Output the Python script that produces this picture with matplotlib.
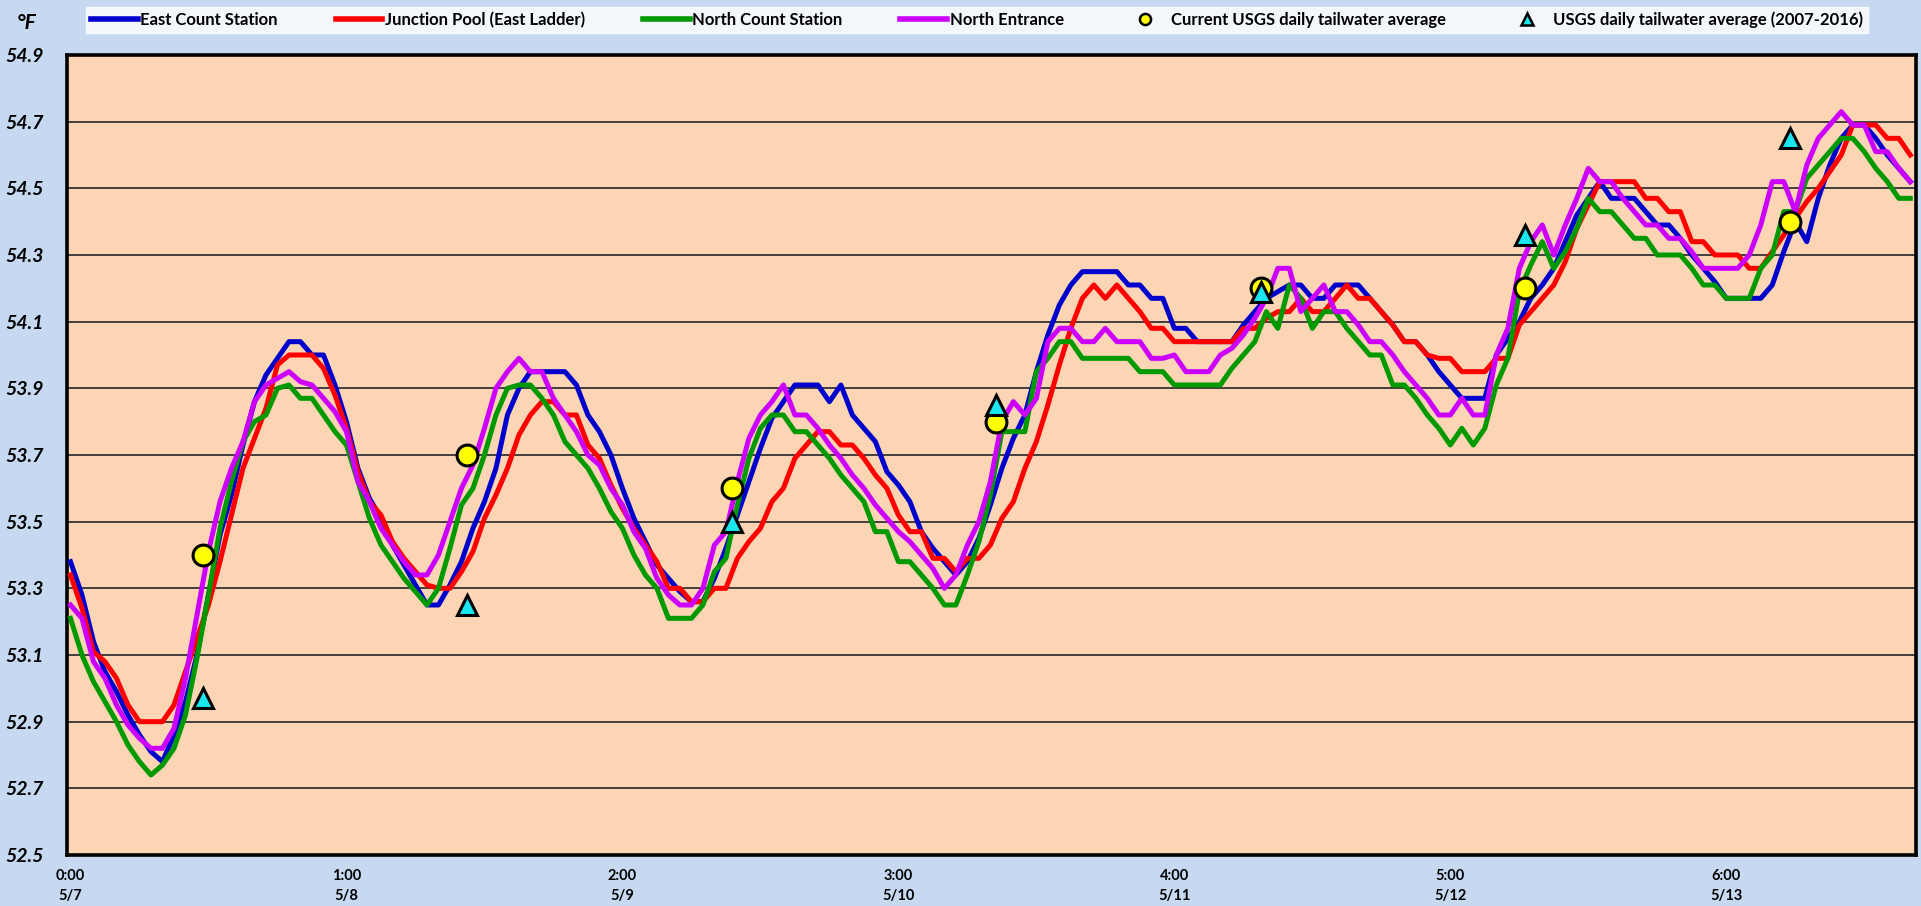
import numpy as np
import matplotlib
matplotlib.use("Agg")
import matplotlib.pyplot as plt
from matplotlib.lines import Line2D

plt.rcParams['font.family'] = ['Lato', 'DejaVu Sans']

# hourly readings, 5/7 0:00 onward
hours = np.arange(161)

east_count = [
    53.38, 53.28, 53.14, 53.05, 52.99, 52.92, 52.86, 52.81, 52.78, 52.86, 52.96, 53.10,
    53.28, 53.46, 53.58, 53.73, 53.86, 53.94, 53.99, 54.04, 54.04, 54.00, 54.00, 53.91,
    53.80, 53.66, 53.57, 53.51, 53.43, 53.37, 53.31, 53.25, 53.25, 53.31, 53.38, 53.48,
    53.56, 53.66, 53.82, 53.90, 53.95, 53.95, 53.95, 53.95, 53.91, 53.82, 53.77, 53.70,
    53.60, 53.51, 53.44, 53.37, 53.33, 53.29, 53.26, 53.26, 53.33, 53.42, 53.52, 53.62,
    53.72, 53.81, 53.86, 53.91, 53.91, 53.91, 53.86, 53.91, 53.82, 53.78, 53.74, 53.65,
    53.61, 53.56, 53.47, 53.42, 53.38, 53.34, 53.38, 53.45, 53.55, 53.66, 53.75, 53.82,
    53.95, 54.06, 54.15, 54.21, 54.25, 54.25, 54.25, 54.25, 54.21, 54.21, 54.17, 54.17,
    54.08, 54.08, 54.04, 54.04, 54.04, 54.04, 54.09, 54.13, 54.17, 54.19, 54.21, 54.21,
    54.17, 54.17, 54.21, 54.21, 54.21, 54.17, 54.13, 54.09, 54.04, 54.04, 54.00, 53.95,
    53.91, 53.87, 53.87, 53.87, 54.00, 54.05, 54.10, 54.17, 54.21, 54.26, 54.34, 54.42,
    54.47, 54.52, 54.47, 54.47, 54.47, 54.43, 54.39, 54.39, 54.35, 54.30, 54.26, 54.22,
    54.17, 54.17, 54.17, 54.17, 54.21, 54.31, 54.40, 54.34, 54.47, 54.57, 54.65, 54.69,
    54.69, 54.65, 54.60, 54.56, 54.52,
]

junction_pool = [
    53.34, 53.24, 53.11, 53.08, 53.03, 52.95, 52.90, 52.90, 52.90, 52.95, 53.05, 53.15,
    53.25, 53.38, 53.52, 53.66, 53.75, 53.84, 53.97, 54.00, 54.00, 54.00, 53.96, 53.88,
    53.78, 53.65, 53.56, 53.52, 53.44, 53.39, 53.35, 53.31, 53.30, 53.30, 53.35, 53.41,
    53.51, 53.58, 53.66, 53.76, 53.82, 53.86, 53.86, 53.82, 53.82, 53.73, 53.69, 53.61,
    53.54, 53.48, 53.43, 53.38, 53.30, 53.30, 53.26, 53.26, 53.30, 53.30, 53.39, 53.44,
    53.48, 53.56, 53.60, 53.69, 53.73, 53.77, 53.77, 53.73, 53.73, 53.69, 53.64, 53.60,
    53.52, 53.47, 53.47, 53.39, 53.39, 53.35, 53.39, 53.39, 53.43, 53.51, 53.56, 53.66,
    53.74, 53.85, 53.97, 54.08, 54.17, 54.21, 54.17, 54.21, 54.17, 54.13, 54.08, 54.08,
    54.04, 54.04, 54.04, 54.04, 54.04, 54.04, 54.08, 54.08, 54.11, 54.13, 54.13, 54.17,
    54.13, 54.13, 54.17, 54.21, 54.17, 54.17, 54.13, 54.09, 54.04, 54.04, 54.00, 53.99,
    53.99, 53.95, 53.95, 53.95, 53.99, 53.99, 54.09, 54.13, 54.17, 54.21, 54.28, 54.38,
    54.45, 54.52, 54.52, 54.52, 54.52, 54.47, 54.47, 54.43, 54.43, 54.34, 54.34, 54.30,
    54.30, 54.30, 54.26, 54.26, 54.31, 54.36, 54.41, 54.46, 54.50, 54.55, 54.60, 54.69,
    54.69, 54.69, 54.65, 54.65, 54.60,
]

north_count = [
    53.21, 53.10, 53.02, 52.96, 52.90, 52.83, 52.78, 52.74, 52.77, 52.82, 52.92, 53.09,
    53.28, 53.48, 53.62, 53.74, 53.80, 53.82, 53.90, 53.91, 53.87, 53.87, 53.82, 53.77,
    53.73, 53.62, 53.51, 53.43, 53.38, 53.33, 53.29, 53.25, 53.30, 53.42, 53.55, 53.60,
    53.70, 53.82, 53.90, 53.91, 53.91, 53.87, 53.82, 53.74, 53.70, 53.66, 53.60, 53.53,
    53.48, 53.40, 53.34, 53.30, 53.21, 53.21, 53.21, 53.25, 53.35, 53.39, 53.55, 53.69,
    53.78, 53.82, 53.82, 53.77, 53.77, 53.73, 53.69, 53.64, 53.60, 53.56, 53.47, 53.47,
    53.38, 53.38, 53.34, 53.30, 53.25, 53.25, 53.34, 53.44, 53.58, 53.77, 53.77, 53.77,
    53.95, 53.99, 54.04, 54.04, 53.99, 53.99, 53.99, 53.99, 53.99, 53.95, 53.95, 53.95,
    53.91, 53.91, 53.91, 53.91, 53.91, 53.96, 54.00, 54.04, 54.13, 54.08, 54.21, 54.17,
    54.08, 54.13, 54.13, 54.08, 54.04, 54.00, 54.00, 53.91, 53.91, 53.87, 53.82, 53.78,
    53.73, 53.78, 53.73, 53.78, 53.91, 53.99, 54.19, 54.27, 54.34, 54.26, 54.31, 54.38,
    54.47, 54.43, 54.43, 54.39, 54.35, 54.35, 54.30, 54.30, 54.30, 54.26, 54.21, 54.21,
    54.17, 54.17, 54.17, 54.26, 54.30, 54.43, 54.43, 54.53, 54.57, 54.61, 54.65, 54.65,
    54.61, 54.56, 54.52, 54.47, 54.47,
]

north_entrance = [
    53.25, 53.21, 53.08, 53.03, 52.95, 52.89, 52.85, 52.82, 52.82, 52.88, 53.03, 53.22,
    53.41, 53.56, 53.66, 53.74, 53.86, 53.91, 53.93, 53.95, 53.92, 53.91, 53.87, 53.83,
    53.77, 53.62, 53.56, 53.48, 53.43, 53.38, 53.34, 53.34, 53.40, 53.50, 53.60, 53.67,
    53.78, 53.90, 53.95, 53.99, 53.95, 53.95, 53.87, 53.82, 53.77, 53.70, 53.67, 53.60,
    53.55, 53.47, 53.42, 53.33, 53.28, 53.25, 53.25, 53.30, 53.43, 53.47, 53.62, 53.75,
    53.82, 53.86, 53.91, 53.82, 53.82, 53.78, 53.73, 53.69, 53.64, 53.60, 53.55, 53.51,
    53.47, 53.44, 53.40, 53.36, 53.30, 53.34, 53.43, 53.50, 53.62, 53.80, 53.86, 53.82,
    53.87, 54.04, 54.08, 54.08, 54.04, 54.04, 54.08, 54.04, 54.04, 54.04, 53.99, 53.99,
    54.00, 53.95, 53.95, 53.95, 54.00, 54.02, 54.06, 54.11, 54.17, 54.26, 54.26, 54.13,
    54.17, 54.21, 54.13, 54.13, 54.09, 54.04, 54.04, 54.00, 53.95, 53.91, 53.87, 53.82,
    53.82, 53.87, 53.82, 53.82, 54.00, 54.08, 54.26, 54.34, 54.39, 54.30, 54.39, 54.47,
    54.56, 54.52, 54.52, 54.47, 54.43, 54.39, 54.39, 54.35, 54.35, 54.31, 54.26, 54.26,
    54.26, 54.26, 54.30, 54.39, 54.52, 54.52, 54.43, 54.57, 54.65, 54.69, 54.73, 54.69,
    54.69, 54.61, 54.61, 54.56, 54.52,
]

# daily USGS tailwater values
usgs_hours = [11.5, 34.5, 57.5, 80.5, 103.5, 126.5, 149.5]
usgs_current = [53.40, 53.70, 53.60, 53.80, 54.20, 54.20, 54.40]
usgs_hist = [52.97, 53.25, 53.50, 53.85, 54.19, 54.36, 54.65]

tick_hours = [0, 24, 48, 72, 96, 120, 144]
tick_labels = ["0:00\n5/7", "1:00\n5/8", "2:00\n5/9", "3:00\n5/10",
               "4:00\n5/11", "5:00\n5/12", "6:00\n5/13"]
y_ticks = np.round(np.arange(52.5, 54.91, 0.2), 1)

fig = plt.figure(figsize=(19.21, 9.06), dpi=100, facecolor='#C6D9F1')
ax = fig.add_axes([0.0349, 0.0563, 0.9625, 0.883])
ax.set_facecolor('#FCD5B4')

lw = 3.6
ax.plot(hours, east_count, color='#0000CC', lw=lw, zorder=3)
ax.plot(hours, junction_pool, color='#FF0000', lw=lw, zorder=3)
ax.plot(hours, north_count, color='#009900', lw=lw, zorder=3)
ax.plot(hours, north_entrance, color='#CC00FF', lw=lw, zorder=3)
ax.plot(usgs_hours, usgs_current, 'o', ms=15, mfc='#FFFF00', mec='black', mew=2.2, zorder=5)
ax.plot(usgs_hours, usgs_hist, '^', ms=14, mfc='#19E6EE', mec='black', mew=2.2, zorder=5)

ax.set_xlim(-0.3, 160.5)
ax.set_ylim(52.5, 54.9)
ax.set_yticks(y_ticks)
ax.set_yticklabels([f"{v:.1f}" for v in y_ticks], fontsize=14, fontweight='bold', fontstyle='italic')
ax.set_xticks(tick_hours)
ax.set_xticklabels(tick_labels, fontsize=10.5, fontweight='bold', linespacing=1.55)
ax.tick_params(axis='y', length=0, pad=17)
ax.tick_params(axis='x', length=0, pad=10)
ax.grid(axis='y', color='#333333', lw=1.3, zorder=1)
ax.set_axisbelow(True)
for s in ax.spines.values():
    s.set_linewidth(2.6)
    s.set_color('black')

fig.text(0.014, 0.975, "°F", fontsize=15, fontweight='bold', fontstyle='italic', va='center', ha='center')

handles = [
    Line2D([], [], color='#0000CC', lw=4),
    Line2D([], [], color='#FF0000', lw=4),
    Line2D([], [], color='#009900', lw=4),
    Line2D([], [], color='#CC00FF', lw=4),
    Line2D([], [], ls='', marker='o', ms=8, mfc='#FFFF00', mec='black', mew=1.8),
    Line2D([], [], ls='', marker='^', ms=8, mfc='#19E6EE', mec='black', mew=1.8),
]
labels = ["East Count Station", "Junction Pool (East Ladder)", "North Count Station",
          "North Entrance", "Current USGS daily tailwater average",
          "USGS daily tailwater average (2007-2016)"]
leg = fig.legend(handles, labels, loc='center', ncol=6, mode='expand',
                 bbox_to_anchor=(0.0448, 0.9558, 0.9276, 0.0442),
                 prop={'size': 12, 'weight': 'bold'}, handlelength=2.8, handletextpad=0.15,
                 columnspacing=0.6, frameon=True, fancybox=False, borderaxespad=0, borderpad=0.3)
leg.get_frame().set_facecolor('white')
leg.get_frame().set_edgecolor('white')

fig.savefig('out.png', dpi=100, facecolor=fig.get_facecolor())
